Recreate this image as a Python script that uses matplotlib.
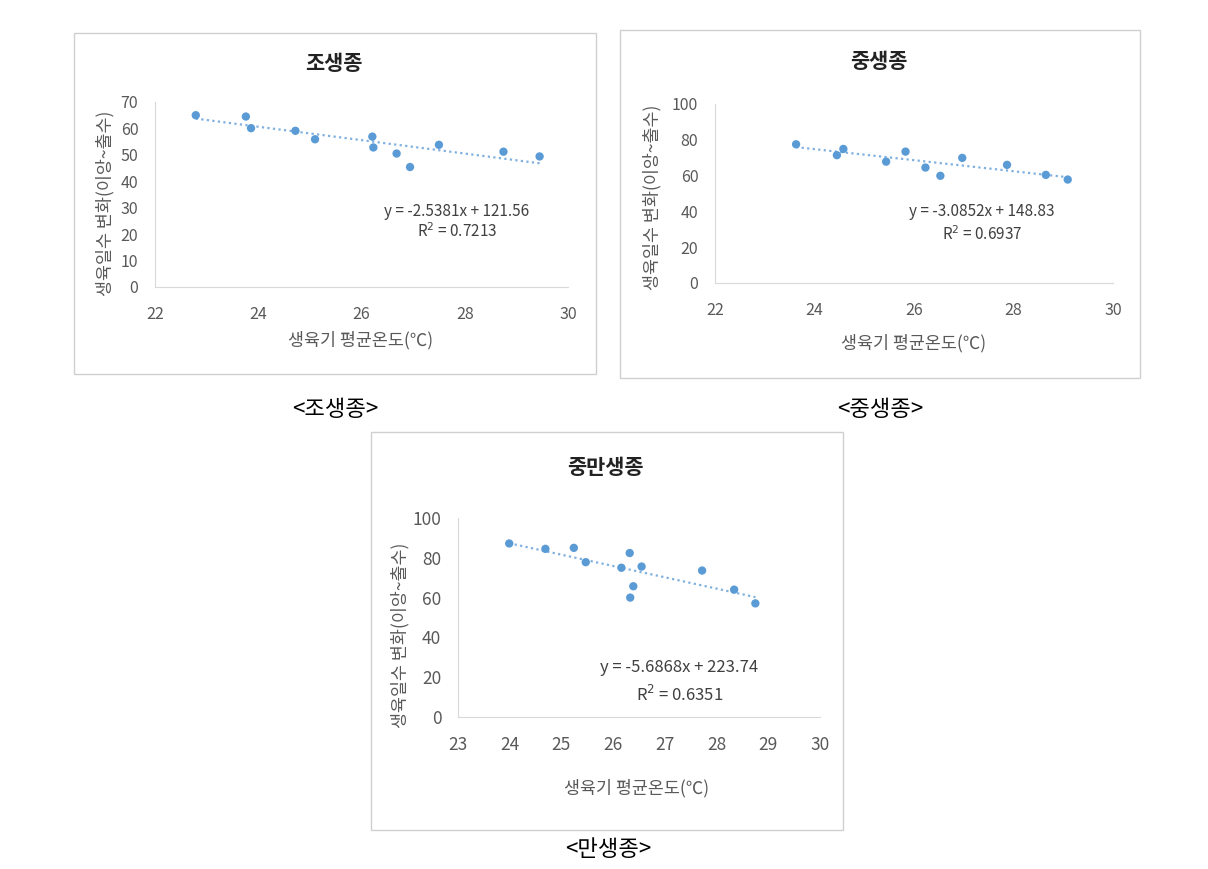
import numpy as np
import matplotlib.pyplot as plt
from matplotlib.patches import Rectangle

plt.rcParams['font.family'] = ['Noto Sans CJK KR', 'DejaVu Sans']

W, H = 1208, 869

# 조생종
x_early = [22.79, 23.76, 23.86, 24.72, 25.10, 26.21, 26.23, 26.68, 26.94, 27.50, 28.75, 29.45]
y_early = [65.0, 64.5, 60.1, 59.1, 55.9, 56.9, 52.8, 50.5, 45.4, 53.8, 51.2, 49.4]
# 중생종
x_mid = [23.63, 24.45, 24.58, 25.44, 25.83, 26.23, 26.53, 26.97, 27.87, 28.65, 29.09]
y_mid = [77.5, 71.4, 74.9, 67.8, 73.4, 64.5, 59.9, 69.9, 66.0, 60.4, 57.8]
# 중만생종
x_late = [23.99, 24.69, 25.24, 25.47, 26.16, 26.32, 26.55, 26.39, 26.33, 27.72, 28.34, 28.75]
y_late = [87.2, 84.5, 85.0, 77.8, 75.0, 82.4, 75.6, 65.7, 60.0, 73.6, 64.0, 57.1]

fits = [(-2.5381, 121.56, 0.7213), (-3.0852, 148.83, 0.6937), (-5.6868, 223.74, 0.6351)]
titles = ['조생종', '중생종', '중만생종']
captions = ['<조생종>', '<중생종>', '<만생종>']
xlabel = '생육기 평균온도(℃)'
ylabel = '생육일수 변화(이앙~출수)'

fig = plt.figure(figsize=(W / 100, H / 100), dpi=100)


def fx(px):
    return px / W


def fy(py):
    return 1 - py / H


def box(x0, y0, x1, y1):
    fig.patches.append(Rectangle((fx(x0), fy(y1)), fx(x1 - x0), (y1 - y0) / H,
                                 transform=fig.transFigure, fill=False,
                                 edgecolor='#d0d0d0', lw=1.0))


gray = '#595959'
panels = [
    dict(ax=(155, 568, 102, 287), box=(74, 33, 596, 374), xlim=(22, 30), ylim=(0, 70),
         yt=np.arange(0, 71, 10), xt=np.arange(22, 31, 2), title=(334, 63), xl=(361, 340),
         yl=(105, 203), eq=(27.85, 28.5, 21.0), x=x_early, y=y_early, fs=11.5),
    dict(ax=(715, 1113, 104, 283), box=(620, 30, 1140, 378), xlim=(22, 30), ylim=(0, 100),
         yt=np.arange(0, 101, 20), xt=np.arange(22, 31, 2), title=(879, 62), xl=(914, 343),
         yl=(652, 197), eq=(27.37, 40.0, 27.0), x=x_mid, y=y_mid, fs=11.5),
    dict(ax=(458, 820, 518, 717), box=(371, 432, 843, 830), xlim=(23, 30), ylim=(0, 100),
         yt=np.arange(0, 101, 20), xt=np.arange(23, 31, 1), title=(605, 468), xl=(637, 788),
         yl=(400, 635), eq=(27.28, 24.9, 10.9), x=x_late, y=y_late, fs=12.5),
]

for i, p in enumerate(panels):
    l, r, t, b = p['ax']
    ax = fig.add_axes([fx(l), fy(b), fx(r - l), (b - t) / H])
    box(*p['box'])
    ax.set_xlim(*p['xlim'])
    ax.set_ylim(*p['ylim'])
    ax.set_xticks(p['xt'])
    ax.set_yticks(p['yt'])
    for s in ['top', 'right']:
        ax.spines[s].set_visible(False)
    for s in ['left', 'bottom']:
        ax.spines[s].set_color('#d9d9d9')
    ax.tick_params(length=0, labelsize=p['fs'], labelcolor=gray)
    ax.tick_params(axis='x', pad=14)
    ax.tick_params(axis='y', pad=12)
    ax.patch.set_alpha(0)

    m, c, r2 = fits[i]
    xs = np.array([min(p['x']), max(p['x'])])
    ax.plot(xs, m * xs + c, ls=(0, (1, 1.5)), color='#7fb0e0', lw=1.6, zorder=2)
    ax.scatter(p['x'], p['y'], s=36, color='#5b9bd5', zorder=3, edgecolors='none')

    ex, ey, ry = p['eq']
    ax.text(ex, ey, f'y = {m:.4f}x + {c:.2f}', ha='center', va='center', fontsize=p['fs'] - 0.5, color='#404040')
    ax.text(ex, ry, f'R$^2$ = {r2:.4f}', ha='center', va='center', fontsize=p['fs'] - 0.5, color='#404040')

    tx, ty = p['title']
    fig.text(fx(tx), fy(ty), titles[i], ha='center', va='center', fontsize=15, fontweight='bold', color='#222222')
    lx, ly = p['xl']
    fig.text(fx(lx), fy(ly), xlabel, ha='center', va='center', fontsize=12.5, color=gray)
    yx, yy = p['yl']
    fig.text(fx(yx), fy(yy), ylabel, ha='center', va='center', rotation=90, fontsize=12.5, color=gray)

cap_pos = [(335, 410), (880, 410), (608, 849)]
for cap, (cx, cy) in zip(captions, cap_pos):
    fig.text(fx(cx), fy(cy), cap, ha='center', va='center', fontsize=16, color='black')

fig.savefig('out.png', dpi=100)
